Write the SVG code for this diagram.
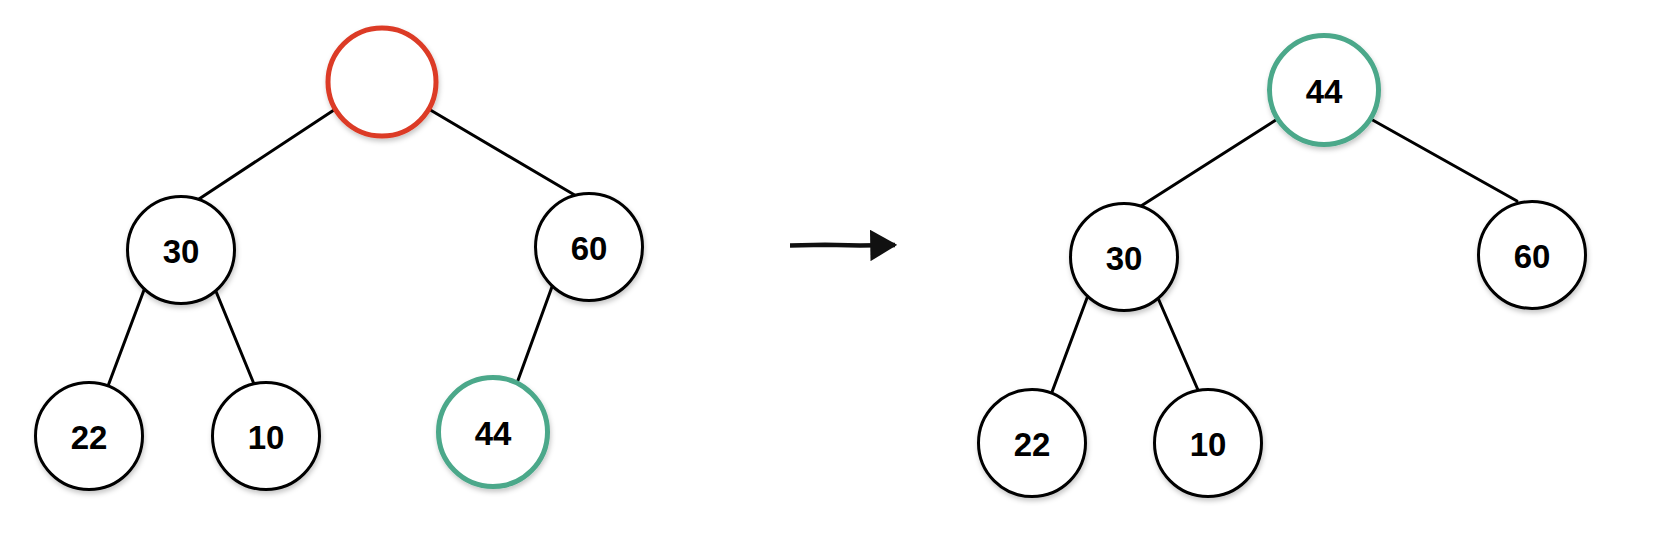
<svg xmlns="http://www.w3.org/2000/svg" width="1668" height="544" viewBox="0 0 1668 544">
  <style>
    .edge { stroke: #000; stroke-width: 3; fill: none; stroke-linecap: round; }
    .node { fill: #fff; stroke: #000; stroke-width: 3; filter: url(#sh); }
    .red { stroke: #dc3b26; stroke-width: 5; }
    .green { stroke: #4ba88a; stroke-width: 5; }
    .lbl { font-family: "Liberation Sans", Arial, sans-serif; font-weight: bold; font-size: 33px; text-anchor: middle; dominant-baseline: central; fill: #000; }
  </style>
  <defs>
    <filter id="sh" x="-20%" y="-20%" width="150%" height="150%">
      <feDropShadow dx="1" dy="3" stdDeviation="2.5" flood-color="#000" flood-opacity="0.22"/>
    </filter>
    <marker id="ah" markerWidth="6" markerHeight="7" refX="5.5" refY="3.5" orient="auto" markerUnits="strokeWidth">
      <polygon points="0,0 6,3.5 0,7" fill="#111"/>
    </marker>
  </defs>
  <rect width="1668" height="544" fill="#fff"/>
  <g id="connectors">
    <line class="edge" x1="337" y1="108" x2="199" y2="199"/>
    <line class="edge" x1="427" y1="108" x2="578" y2="197"/>
    <line class="edge" x1="144" y1="290" x2="108" y2="386"/>
    <line class="edge" x1="215" y1="289" x2="254" y2="384"/>
    <line class="edge" x1="553" y1="284" x2="517" y2="383"/>
    <line class="edge" x1="1279" y1="118" x2="1141" y2="206"/>
    <line class="edge" x1="1369" y1="118" x2="1517" y2="201"/>
    <line class="edge" x1="1087" y1="298" x2="1052" y2="392"/>
    <line class="edge" x1="1158" y1="298" x2="1198" y2="390"/>
    <path d="M790,245.5 L825,244.8 L860,245.6 L895,245" stroke="#111" stroke-width="4.5" fill="none" marker-end="url(#ah)"/>
  </g>
  <g id="n-root-empty"><circle class="node red" cx="382" cy="82" r="54"/></g>
  <g id="n-30-left"><circle class="node" cx="181" cy="250" r="53.5"/><text class="lbl" x="181" y="251">30</text></g>
  <g id="n-60-left"><circle class="node" cx="589" cy="247" r="53.5"/><text class="lbl" x="589" y="248">60</text></g>
  <g id="n-22-left"><circle class="node" cx="89" cy="436" r="53.5"/><text class="lbl" x="89" y="437">22</text></g>
  <g id="n-10-left"><circle class="node" cx="266" cy="436" r="53.5"/><text class="lbl" x="266" y="437">10</text></g>
  <g id="n-44-left"><circle class="node green" cx="493" cy="432" r="54.5"/><text class="lbl" x="493" y="433">44</text></g>
  <g id="n-44-right"><circle class="node green" cx="1324" cy="90" r="54.5"/><text class="lbl" x="1324" y="91">44</text></g>
  <g id="n-30-right"><circle class="node" cx="1124" cy="257" r="53.5"/><text class="lbl" x="1124" y="258">30</text></g>
  <g id="n-60-right"><circle class="node" cx="1532" cy="255" r="53.5"/><text class="lbl" x="1532" y="256">60</text></g>
  <g id="n-22-right"><circle class="node" cx="1032" cy="443" r="53.5"/><text class="lbl" x="1032" y="444">22</text></g>
  <g id="n-10-right"><circle class="node" cx="1208" cy="443" r="53.5"/><text class="lbl" x="1208" y="444">10</text></g>
</svg>
